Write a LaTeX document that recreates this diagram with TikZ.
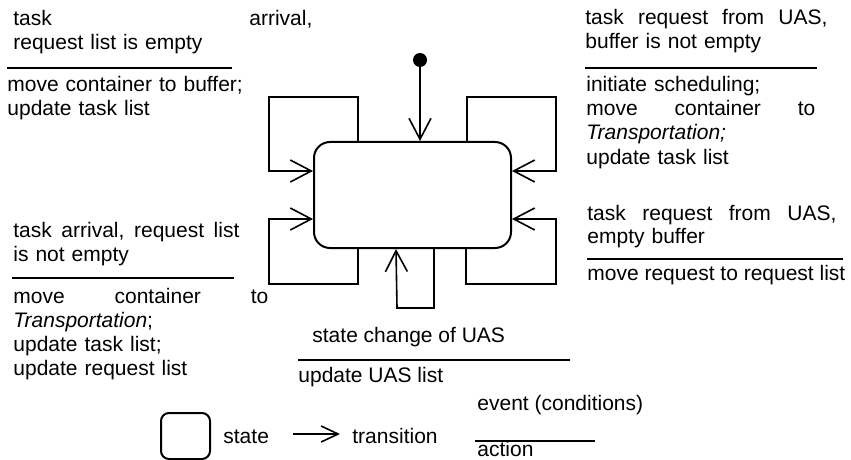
\documentclass[tikz,border=0pt]{standalone}
\usepackage{fontspec}
\setmainfont{Liberation Sans}
\usetikzlibrary{arrows.meta,positioning}

\begin{document}
\begin{tikzpicture}[x=0.5pt,y=-0.5pt,
  txt/.style={anchor=base west,inner sep=0pt,font=\fontsize{10.5}{12}\selectfont},
  statebox/.style={draw,line width=1pt,rounded corners=8pt,inner sep=0pt},
  trans/.style={line width=0.8pt,-{Straight Barb[length=10.5pt,width=11pt]}},
  legtrans/.style={line width=0.8pt,-{Straight Barb[length=8.5pt,width=8pt]}},
  seprule/.style={line width=0.8pt}]
\useasboundingbox (0,0) rectangle (851,460);
\node[statebox,minimum width=98.5pt,minimum height=53pt] (st) at (412.5,195) {};
\node[circle,fill,inner sep=0pt,minimum size=7pt] (init) at (420,60) {};
\draw[trans] (init) -- (init |- st.north);
\draw[trans] ([xshift=22.5pt]st.north west) |- (269,97) |- ([yshift=-15pt]st.north west);
\draw[trans] ([xshift=-22.5pt]st.north east) |- (556,97) |- ([yshift=-15pt]st.north east);
\draw[trans] ([xshift=22.5pt]st.south west) |- (269,284) |- ([yshift=15pt]st.south west);
\draw[trans] ([xshift=-23pt]st.south east) |- (556,284) |- ([yshift=15pt]st.south east);
\draw[trans] ([xshift=60.5pt]st.south west) |- (397,308) -- ([xshift=41.5pt]st.south west);
% task arrival, empty request list
\node[txt,text width=149.5pt] (tlev) at (13,26) {task\hfill arrival,\\request list is empty};
\draw[seprule] (7,68) -- (232,68);
\node[txt,text width=125pt] (tlac) at (7,92) {move container to buffer;\\update task list};
% request with buffer
\node[txt,text width=121pt] (trev) at (585,25) {task\hfill request\hfill from\hfill UAS,\\buffer is not empty};
\draw[seprule] (585,68) -- (817,68);
\node[txt,text width=114.5pt] (trac) at (586,92) {initiate scheduling;\\move\hfill container\hfill to\\\textit{Transportation;}\\update task list};
% task arrival, request list filled
\node[txt,text width=113pt] (blev) at (13,237) {task\hfill arrival,\hfill request\hfill list\\is not empty};
\draw[seprule] (12,278) -- (234,278);
\node[txt,text width=127.5pt] (blac) at (13,303) {move\hfill container\hfill to\\\textit{Transportation};\\update task list;\\update request list};
% request, empty buffer
\node[txt,text width=124.5pt] (brev) at (587,220) {task\hfill request\hfill from\hfill UAS,\\empty buffer};
\draw[seprule] (587,259) -- (843,259);
\node[txt] (brac) at (587,280) {move request to request list};
% UAS
\node[txt] (uasev) at (312,342) {state change of UAS};
\draw[seprule] (298,360) -- (570,360);
\node[txt] (uasac) at (298,382) {update UAS list};
% legend
\node[statebox,rounded corners=4pt,minimum width=24.5pt,minimum height=23pt] (legst) at (185.5,436) {};
\node[txt] (legstl) at (223,443) {state};
\coordinate (la) at (293,434);
\coordinate (lb) at (340,434);
\draw[legtrans] (la) -- (lb);
\node[txt] (legtrl) at (352,443) {transition};
\node[txt] (legev) at (477,410) {event (conditions)};
\draw[seprule] (475,441) -- (595,441);
\node[txt] (legac) at (477,456) {action};
\end{tikzpicture}
\end{document}
